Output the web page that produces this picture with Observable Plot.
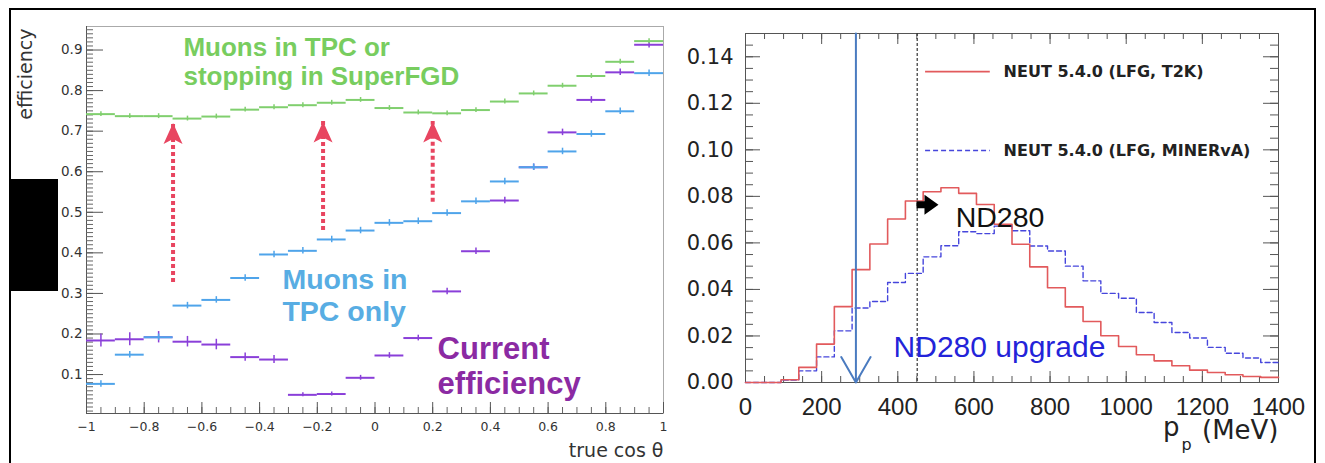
<!DOCTYPE html>
<html><head><meta charset="utf-8">
<script src="https://cdn.jsdelivr.net/npm/d3@7"></script>
<script src="https://cdn.jsdelivr.net/npm/@observablehq/plot@0.6"></script>
<style>
body{margin:0;background:#fff;}
#wrap{position:relative;width:1325px;height:463px;overflow:hidden;background:#fff;}
#left{position:absolute;left:0;top:0;}
#right{position:absolute;left:670px;top:0;}
#border{position:absolute;left:9px;top:8px;width:1303px;height:480px;border:2px solid #000;pointer-events:none;}
#blk{position:absolute;left:10px;top:179px;width:48px;height:112px;background:#000;}
</style></head><body>
<div id="wrap"><div id="left"></div><div id="right"></div><div id="border"></div><div id="blk"></div></div>
<script>
// ---------------- LEFT PANEL DATA ----------------
const cosLow = [-1,-0.9,-0.8,-0.7,-0.6,-0.5,-0.4,-0.3,-0.2,-0.1,0,0.1,0.2,0.3,0.4,0.5,0.6,0.7,0.8,0.9];
const cosBinWidth = 0.1;
const effTPCorSFGD = [0.742,0.737,0.737,0.731,0.736,0.753,0.759,0.764,0.770,0.777,0.757,0.746,0.744,0.752,0.773,0.793,0.812,0.836,0.871,0.922];
const errTPCorSFGD = [0.006,0.006,0.006,0.006,0.006,0.006,0.006,0.006,0.006,0.006,0.006,0.006,0.006,0.006,0.006,0.006,0.006,0.006,0.006,0.006];
const effTPCOnly = [0.077,0.149,0.192,0.270,0.284,0.338,0.396,0.405,0.433,0.455,0.474,0.478,0.498,0.527,0.576,0.611,0.650,0.693,0.749,0.843];
const errTPCOnly = [0.008,0.008,0.008,0.008,0.008,0.008,0.008,0.008,0.008,0.008,0.008,0.008,0.008,0.008,0.008,0.008,0.008,0.008,0.008,0.008];
const effCurrent = [0.184,0.187,0.192,0.181,0.174,0.143,0.137,0.050,0.052,0.092,0.147,0.190,0.305,0.404,0.529,0.611,0.697,0.777,0.845,0.913];
const errCurrent = [0.016,0.016,0.014,0.013,0.013,0.010,0.010,0.005,0.005,0.006,0.007,0.007,0.008,0.008,0.008,0.008,0.008,0.008,0.008,0.008];
const cosTicks = [-1,-0.8,-0.6,-0.4,-0.2,0,0.2,0.4,0.6,0.8,1];
const effTicks = [0.1,0.2,0.3,0.4,0.5,0.6,0.7,0.8,0.9];
const improvementArrows = [{x:-0.7, from:0.327, to:0.720},{x:-0.18, from:0.455, to:0.724},{x:0.2, from:0.5245, to:0.724}];
const notesTPCorSFGD = [{t:"Muons in TPC or", x:-0.664, y:0.886},{t:"stopping in SuperFGD", x:-0.664, y:0.8145}];
const notesTPCOnly = [{t:"Muons in", x:-0.321, y:0.311},{t:"TPC only", x:-0.321, y:0.233}];
const notesCurrent = [{t:"Current", x:0.217, y:0.1387},{t:"efficiency", x:0.217, y:0.0533}];

// ---------------- RIGHT PANEL DATA ----------------
const ppMax = 1400, ppBins = 30;
const histT2K = [0,0,0.0012,0.0065,0.0165,0.0326,0.0485,0.0595,0.0703,0.0780,0.0820,0.0837,0.0813,0.0765,0.0680,0.0594,0.0497,0.0407,0.0325,0.0262,0.0201,0.0155,0.0119,0.0093,0.0072,0.0053,0.0043,0.0033,0.0026,0.0022];
const histMINERvA = [0,0,0.0010,0.0050,0.0110,0.0222,0.0320,0.0348,0.0430,0.0469,0.0540,0.0588,0.0648,0.0640,0.0672,0.0652,0.0587,0.0565,0.0500,0.0437,0.0383,0.0362,0.0301,0.0258,0.0215,0.0191,0.0151,0.0126,0.0105,0.0086];
const ppTicks = [0,200,400,600,800,1000,1200,1400];
const probTicks = [0,0.02,0.04,0.06,0.08,0.10,0.12,0.14];
const thresholdUpgrade = [{p:290}];
const thresholdND280 = [{p:451}];
const legendEntries = [{label:"NEUT 5.4.0 (LFG, T2K)", y:0.1336},{label:"NEUT 5.4.0 (LFG, MINERvA)", y:0.0997}];
const legendLine = {x1:473, x2:643, textX:678};
const noteND280 = [{t:"ND280", x:552, y:0.0668}];
const noteUpgrade = [{t:"ND280 upgrade", x:389, y:0.0108}];
const ndArrow = [{x:478, y:0.0764}];

// ---------------- HELPERS ----------------
function rows(vals, errs){
  return vals.map((v,i)=>({lo:cosLow[i], hi:cosLow[i]+cosBinWidth, mid:cosLow[i]+cosBinWidth/2, v, e:errs[i]}));
}
function steps(vals){
  const w = ppMax/ppBins;
  return vals.map((v,i)=>({x:i*w, y:v})).concat([{x:ppMax, y:vals[vals.length-1]}]);
}
const redHead = {draw(ctx){ctx.moveTo(0,0);ctx.lineTo(9.5,21);ctx.lineTo(0,16);ctx.lineTo(-9.5,21);ctx.closePath();}};
const blockArrow = {draw(ctx){ctx.moveTo(-11,-3.5);ctx.lineTo(-3,-3.5);ctx.lineTo(-3,-10);ctx.lineTo(11,0);ctx.lineTo(-3,10);ctx.lineTo(-3,3.5);ctx.lineTo(-11,3.5);ctx.closePath();}};
const fmtCos = d => d === 0 ? "0" : (d < 0 ? "\u2212" : "") + String(Math.abs(d));

// ---------------- LEFT PLOT ----------------
const LW=670, LH=463, LML=86, LMR=7, LMT=26, LMB=50;
const lfw = LW-LML-LMR, lfh = LH-LMT-LMB;
const yDomL = [0.004, 0.958];
const effMinor = d3.range(0.01, 0.955, 0.01);
const cosMinor = d3.range(-1, 1.0001, 0.05);
const DV = "DejaVu Sans, sans-serif", LS = "Liberation Sans, Arial, sans-serif";
const cGreenBar="#80cf6e", cBlueBar="#4fa4ea", cPurpleBar="#8a3fd9";

function series(data, color){
  return [
    Plot.ruleY(data, {y:"v", x1:"lo", x2:"hi", stroke:color, strokeWidth:2}),
    Plot.ruleX(data, {x:"mid", y1:d=>d.v-d.e, y2:d=>d.v+d.e, stroke:color, strokeWidth:1.5})
  ];
}
const left = Plot.plot({
  width:LW, height:LH, marginLeft:LML, marginRight:LMR, marginTop:LMT, marginBottom:LMB,
  x:{domain:[-1,1], axis:null},
  y:{domain:yDomL, axis:null},
  style:{background:"transparent", fontFamily:DV, overflow:"visible"},
  marks:[
    Plot.frame({stroke:"#aaa"}),
    Plot.ruleX([-1], {stroke:"#555"}),
    Plot.ruleY([yDomL[0]], {stroke:"#555"}),
    Plot.ruleY(effMinor, {insetRight:lfw-7, stroke:"#666"}),
    Plot.ruleY(effTicks, {insetRight:lfw-17, stroke:"#555"}),
    Plot.ruleX(cosMinor, {insetTop:lfh-6, stroke:"#666"}),
    Plot.ruleX(cosTicks, {insetTop:lfh-11, stroke:"#555"}),
    Plot.text(effTicks, {x:-1, y:d=>d, text:d=>d.toFixed(1), textAnchor:"end", dx:-4, fontSize:13.5, fill:"#333", fontFamily:DV}),
    Plot.text(cosTicks, {x:d=>d, y:yDomL[0], text:fmtCos, lineAnchor:"top", dy:9, fontSize:12.5, fill:"#333", fontFamily:DV}),
    Plot.text(["efficiency"], {frameAnchor:"top-left", rotate:-90, textAnchor:"end", lineAnchor:"bottom", dx:-55, dy:2, fontSize:19, fill:"#333", fontFamily:DV}),
    Plot.text(["true cos \u03b8"], {frameAnchor:"bottom-right", textAnchor:"end", lineAnchor:"bottom", dy:43, fontSize:19, fill:"#333", fontFamily:DV}),
    ...series(rows(effCurrent, errCurrent), cPurpleBar),
    ...series(rows(effTPCOnly, errTPCOnly), cBlueBar),
    ...series(rows(effTPCorSFGD, errTPCorSFGD), cGreenBar),
    Plot.ruleX(improvementArrows, {x:"x", y1:"from", y2:"to", stroke:"#e84560", strokeWidth:4, strokeDasharray:"4,3"}),
    Plot.dot(improvementArrows, {x:"x", y:"to", symbol:redHead, fill:"#e84560", stroke:"none", r:10}),
    Plot.text(notesTPCorSFGD, {x:"x", y:"y", text:"t", textAnchor:"start", lineAnchor:"bottom", fontSize:26, fontWeight:"bold", fill:"#78cd5f", fontFamily:LS}),
    Plot.text(notesTPCOnly, {x:"x", y:"y", text:"t", textAnchor:"start", lineAnchor:"bottom", fontSize:28.5, fontWeight:"bold", fill:"#58ade3", fontFamily:LS}),
    Plot.text(notesCurrent, {x:"x", y:"y", text:"t", textAnchor:"start", lineAnchor:"bottom", fontSize:31, fontWeight:"bold", fill:"#8b2aa3", fontFamily:LS})
  ]
});
document.getElementById("left").append(left);

// ---------------- RIGHT PLOT ----------------
const RW=655, RH=463, RML=75, RMR=47, RMT=33, RMB=81;
const rfw = RW-RML-RMR, rfh = RH-RMT-RMB;
const yDomR = [0, 0.15];
const probMinor = d3.range(0, 0.1501, 0.005);
const ppMinor = d3.range(0, 1400.1, 50);
const cRed="#e25a5c", cDash="#4646dc";
const right = Plot.plot({
  width:RW, height:RH, marginLeft:RML, marginRight:RMR, marginTop:RMT, marginBottom:RMB,
  x:{domain:[0,ppMax], axis:null},
  y:{domain:yDomR, axis:null},
  style:{background:"transparent", fontFamily:DV, overflow:"visible"},
  marks:[
    Plot.frame({stroke:"#555"}),
    Plot.ruleY(probMinor, {insetRight:rfw-8, stroke:"#555"}),
    Plot.ruleY(probTicks, {insetRight:rfw-15, stroke:"#555"}),
    Plot.ruleY(probMinor, {insetLeft:rfw-8, stroke:"#555"}),
    Plot.ruleY(probTicks, {insetLeft:rfw-15, stroke:"#555"}),
    Plot.ruleX(ppMinor, {insetTop:rfh-6, stroke:"#555"}),
    Plot.ruleX(ppTicks, {insetTop:rfh-11, stroke:"#555"}),
    Plot.ruleX(ppMinor, {insetBottom:rfh-6, stroke:"#555"}),
    Plot.ruleX(ppTicks, {insetBottom:rfh-11, stroke:"#555"}),
    Plot.text(probTicks, {x:0, y:d=>d, text:d=>d.toFixed(2), textAnchor:"end", dx:-12, fontSize:21, fill:"#222", fontFamily:DV}),
    Plot.text(ppTicks, {x:d=>d, y:0, text:d=>String(d), lineAnchor:"top", dy:15, fontSize:24, fill:"#222", fontFamily:LS}),
    Plot.text(["(MeV)"], {frameAnchor:"bottom-right", textAnchor:"end", lineAnchor:"bottom", dy:56, fontSize:26, fill:"#222", fontFamily:DV}),
    Plot.text(["p"], {frameAnchor:"bottom-right", textAnchor:"end", lineAnchor:"bottom", dx:-99, dy:53, fontSize:26, fill:"#222", fontFamily:DV}),
    Plot.text(["p"], {frameAnchor:"bottom-right", textAnchor:"start", lineAnchor:"bottom", dx:-97, dy:67, fontSize:16, fill:"#222", fontFamily:DV}),
    Plot.ruleX(thresholdND280, {x:"p", stroke:"#333", strokeWidth:1.2, strokeDasharray:"3,2"}),
    Plot.line(steps(histMINERvA), {x:"x", y:"y", curve:"step-after", stroke:cDash, strokeWidth:1.4, strokeDasharray:"5,3"}),
    Plot.line(steps(histT2K), {x:"x", y:"y", curve:"step-after", stroke:cRed, strokeWidth:1.6}),
    Plot.arrow(thresholdUpgrade, {x1:"p", x2:"p", y1:()=>yDomR[1], y2:()=>0, stroke:"#4a7bc0", strokeWidth:2, headLength:22, headAngle:60}),
    Plot.ruleY(legendEntries.slice(0,1), {y:"y", x1:()=>legendLine.x1, x2:()=>legendLine.x2, stroke:cRed, strokeWidth:1.6}),
    Plot.ruleY(legendEntries.slice(1,2), {y:"y", x1:()=>legendLine.x1, x2:()=>legendLine.x2, stroke:cDash, strokeWidth:1.4, strokeDasharray:"5,3"}),
    Plot.text(legendEntries, {x:()=>legendLine.textX, y:"y", text:"label", textAnchor:"start", fontSize:16, fontWeight:"bold", fill:"#222", fontFamily:DV}),
    Plot.dot(ndArrow, {x:"x", y:"y", symbol:blockArrow, fill:"#000", stroke:"none", r:10}),
    Plot.text(noteND280, {x:"x", y:"y", text:"t", textAnchor:"start", lineAnchor:"bottom", fontSize:28.5, fill:"#111", fontFamily:LS}),
    Plot.text(noteUpgrade, {x:"x", y:"y", text:"t", textAnchor:"start", lineAnchor:"bottom", fontSize:30, fill:"#2323d9", fontFamily:LS})
  ]
});
document.getElementById("right").append(right);
</script>
</body></html>
